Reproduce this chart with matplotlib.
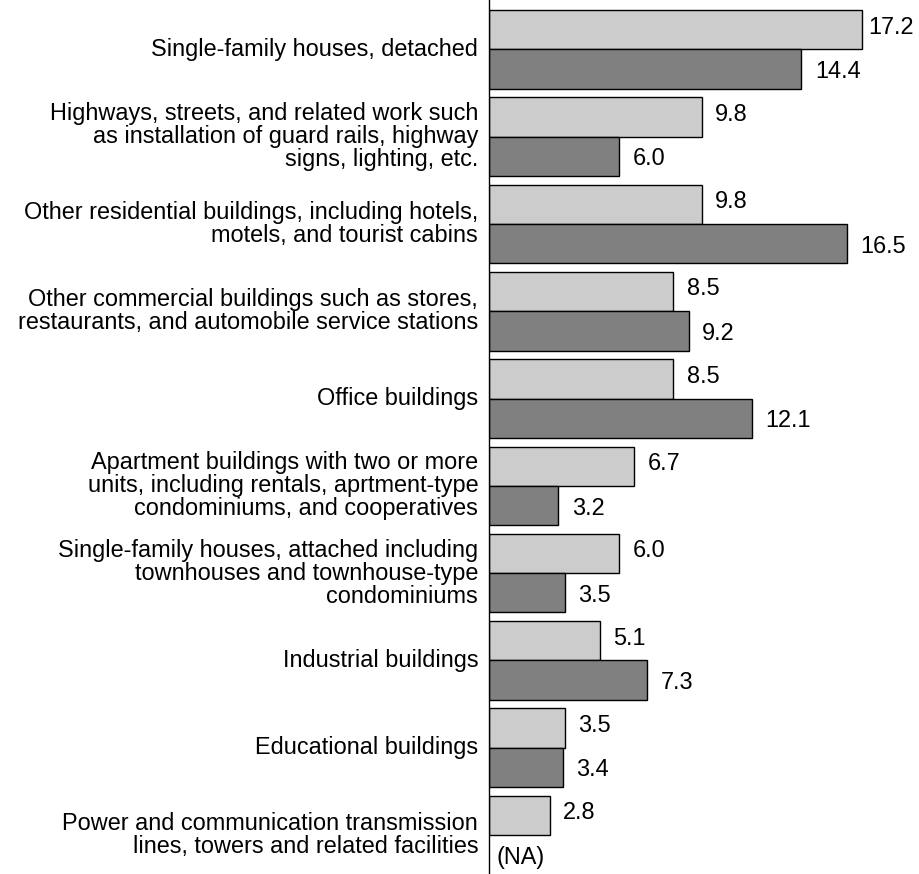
import matplotlib.pyplot as plt

plt.rcParams['font.family'] = ['Liberation Sans', 'DejaVu Sans']

categories = [
    "Single-family houses, detached",
    "Highways, streets, and related work such\nas installation of guard rails, highway\nsigns, lighting, etc.",
    "Other residential buildings, including hotels,\nmotels, and tourist cabins",
    "Other commercial buildings such as stores,\nrestaurants, and automobile service stations",
    "Office buildings",
    "Apartment buildings with two or more\nunits, including rentals, aprtment-type\ncondominiums, and cooperatives",
    "Single-family houses, attached including\ntownhouses and townhouse-type\ncondominiums",
    "Industrial buildings",
    "Educational buildings",
    "Power and communication transmission\nlines, towers and related facilities",
]
light_vals = [17.2, 9.8, 9.8, 8.5, 8.5, 6.7, 6.0, 5.1, 3.5, 2.8]
dark_vals = [14.4, 6.0, 16.5, 9.2, 12.1, 3.2, 3.5, 7.3, 3.4, None]

fs = 16.9

fig = plt.figure(figsize=(9.19, 8.74), dpi=100)
ax = fig.add_axes([489 / 919, 0, 430 / 919, 1])


def value_x(v):
    # keep the label inside the figure
    return min(v + 0.62, 17.5)


h = 0.45
for i, (lv, dv) in enumerate(zip(light_vals, dark_vals)):
    ax.barh(i - h / 2, lv, height=h, color='#cccccc', edgecolor='black', linewidth=1)
    ax.text(value_x(lv), i - h / 2 - 0.03, f"{lv:.1f}", va='center', ha='left', fontsize=fs)
    if dv is None:
        ax.text(0.35, i + h / 2 + 0.03, "(NA)", va='center', ha='left', fontsize=fs)
    else:
        ax.barh(i + h / 2, dv, height=h, color='#808080', edgecolor='black', linewidth=1)
        ax.text(value_x(dv), i + h / 2 + 0.03, f"{dv:.1f}", va='center', ha='left', fontsize=fs)
    ax.text(-0.5, i, categories[i], va='center', ha='right', fontsize=fs,
            multialignment='right', linespacing=1.0)

ax.set_xlim(0, 430 / 21.7)
ax.set_ylim(-0.565 + 874 / 87.3, -0.565)
for s in ['top', 'right', 'bottom']:
    ax.spines[s].set_visible(False)
ax.spines['left'].set_linewidth(1)
ax.set_xticks([])
ax.set_yticks([])

fig.savefig('out.png', dpi=100)
